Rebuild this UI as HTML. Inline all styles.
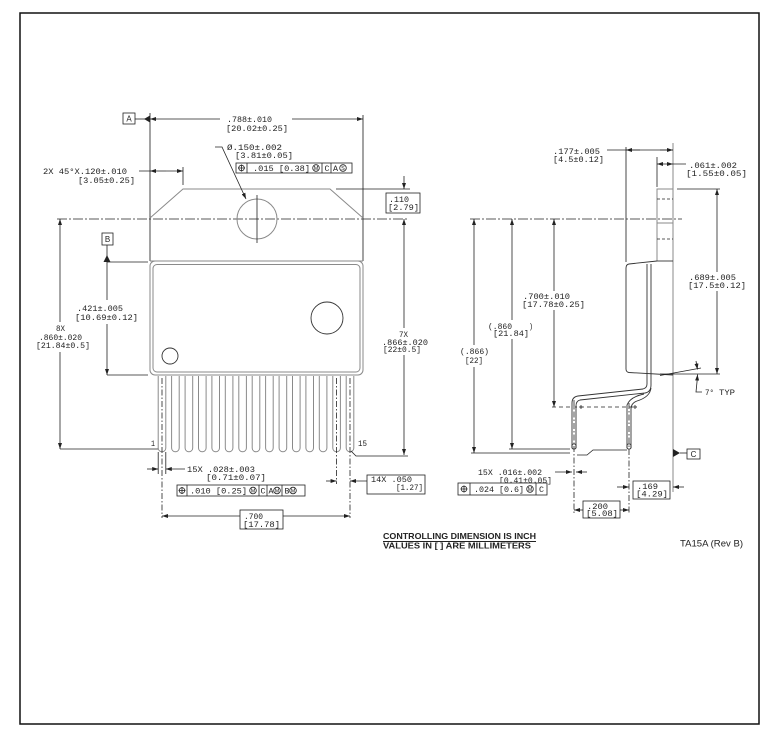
<!DOCTYPE html>
<html><head><meta charset="utf-8"><style>
html,body{margin:0;padding:0;background:#fff;}
svg{display:block}
.t{font-family:"Liberation Mono",monospace;font-size:8px;fill:#222}
.s{font-family:"Liberation Sans",sans-serif;fill:#222}
.d{stroke:#222;stroke-width:0.8;fill:none}
.g{stroke:#8a8a8a;stroke-width:1;fill:none}
.k{stroke:#333;stroke-width:0.9;fill:none}
.cl{stroke:#222;stroke-width:0.8;fill:none;stroke-dasharray:10 2 2 2}
.cv{stroke:#222;stroke-width:0.8;fill:none;stroke-dasharray:6 2 1.5 2}
.bx{stroke:#222;stroke-width:0.8;fill:#fff}
</style></head><body>
<svg width="774" height="745" viewBox="0 0 774 745" xmlns="http://www.w3.org/2000/svg">
<defs>
<marker id="a" viewBox="0 0 6 4" refX="6" refY="2" markerWidth="6" markerHeight="4" markerUnits="userSpaceOnUse" orient="auto"><path d="M0,0L6,2L0,4z" fill="#222"/></marker>
<path id="ld" d="M-3.8,376V448A3.8,3.8 0 0 0 3.8,448V376" class="g"/>
</defs>
<rect x="20" y="13" width="739" height="711" fill="none" stroke="#111" stroke-width="1.5"/>

<!-- ================= FRONT VIEW ================= -->
<!-- centre line -->
<path class="cl" d="M57,219H408"/>
<!-- tab -->
<path class="k" d="M150,113V261M363,115V261"/>
<path class="g" d="M150,218L183,189H330L363,218M150,261H363"/>
<circle cx="257" cy="219" r="20" class="g"/>
<path class="d" d="M257,195V243"/>
<!-- body -->
<rect x="150" y="261" width="213" height="114" rx="5" class="g"/>
<rect x="153" y="264.5" width="207" height="107.5" rx="4" class="g"/>
<circle cx="327" cy="318" r="16" class="k" stroke="#555"/>
<circle cx="170" cy="356" r="8" class="k" stroke="#555"/>
<!-- leads -->
<use href="#ld" x="162"/><use href="#ld" x="175.4"/><use href="#ld" x="188.9"/><use href="#ld" x="202.3"/><use href="#ld" x="215.7"/><use href="#ld" x="229.1"/><use href="#ld" x="242.6"/><use href="#ld" x="256"/><use href="#ld" x="269.4"/><use href="#ld" x="282.9"/><use href="#ld" x="296.3"/><use href="#ld" x="309.7"/><use href="#ld" x="323.1"/><use href="#ld" x="336.6"/><use href="#ld" x="350"/>
<path class="cv" d="M162,378V518M336.6,378V484M350,378V518"/>
<text class="t" x="151" y="446" textLength="4" lengthAdjust="spacingAndGlyphs">1</text>
<text class="t" x="358" y="446" textLength="9" lengthAdjust="spacingAndGlyphs">15</text>

<!-- datum A & .788 -->
<rect x="123" y="113" width="12" height="11" class="bx"/>
<text class="s" x="129" y="121.5" font-size="8" text-anchor="middle">A</text>
<path class="d" d="M135,119H145"/>
<polygon points="150,115.5 150,122.5 144,119" fill="#222"/>
<path class="d" d="M220,119H150" marker-end="url(#a)"/>
<path class="d" d="M292,119H363" marker-end="url(#a)"/>
<text class="t" x="227" y="122" textLength="45" lengthAdjust="spacingAndGlyphs">.788±.010</text>
<text class="t" x="226" y="131" textLength="62" lengthAdjust="spacingAndGlyphs">[20.02±0.25]</text>

<!-- Ø.150 -->
<path class="d" d="M215,147H222L246,199" marker-end="url(#a)"/>
<text class="t" x="227" y="150" textLength="55" lengthAdjust="spacingAndGlyphs">Ø.150±.002</text>
<text class="t" x="235" y="158" textLength="58" lengthAdjust="spacingAndGlyphs">[3.81±0.05]</text>
<!-- FCF1 -->
<rect x="236" y="163" width="116" height="10" class="bx"/>
<path class="d" d="M247,163V173M322,163V173M331,163V173"/>
<circle cx="241.5" cy="168" r="2.8" class="d"/><path class="d" d="M241.5,164.5V171.5M238,168H245"/>
<text class="t" x="253" y="171" textLength="57" lengthAdjust="spacingAndGlyphs">.015 [0.38]</text>
<circle cx="316" cy="168" r="3.3" class="d" stroke-width="0.7"/><text class="s" x="316" y="170" font-size="5.5" text-anchor="middle">M</text>
<text class="t" x="324.5" y="171" textLength="5" lengthAdjust="spacingAndGlyphs">C</text>
<text class="t" x="333" y="171" textLength="5" lengthAdjust="spacingAndGlyphs">A</text>
<circle cx="343" cy="168" r="3.3" class="d" stroke-width="0.7"/><text class="s" x="343" y="170" font-size="5.5" text-anchor="middle">S</text>

<!-- 2X 45° -->
<path class="d" d="M139,171H150M183,167V185"/>
<path class="d" d="M166,171H150" marker-end="url(#a)"/>
<path class="d" d="M166,171H183" marker-end="url(#a)"/>
<text class="t" x="43" y="174" textLength="84" lengthAdjust="spacingAndGlyphs">2X 45°X.120±.010</text>
<text class="t" x="78" y="183" textLength="57" lengthAdjust="spacingAndGlyphs">[3.05±0.25]</text>

<!-- .110 -->
<path class="d" d="M336,189H410"/>
<path class="d" d="M404,176V189" marker-end="url(#a)"/>
<rect x="386" y="193" width="34" height="20" class="bx"/>
<text class="t" x="389" y="202" textLength="20" lengthAdjust="spacingAndGlyphs">.110</text>
<text class="t" x="388" y="210" textLength="31" lengthAdjust="spacingAndGlyphs">[2.79]</text>

<!-- 7X .866 -->
<path class="d" d="M404,328V219" marker-end="url(#a)"/>
<path class="d" d="M404,355V455" marker-end="url(#a)"/>
<path class="d" d="M351,451L356,456H408"/>
<text class="t" x="399" y="337" textLength="9" lengthAdjust="spacingAndGlyphs">7X</text>
<text class="t" x="382" y="345" textLength="46" lengthAdjust="spacingAndGlyphs">.866±.020</text>
<text class="t" x="383" y="352" textLength="38" lengthAdjust="spacingAndGlyphs">[22±0.5]</text>

<!-- 8X .860 -->
<path class="d" d="M60,322V219" marker-end="url(#a)"/>
<path class="d" d="M60,352V449" marker-end="url(#a)"/>
<path class="d" d="M60,449H158"/>
<text class="t" x="56" y="331" textLength="9" lengthAdjust="spacingAndGlyphs">8X</text>
<text class="t" x="39" y="340" textLength="43" lengthAdjust="spacingAndGlyphs">.860±.020</text>
<text class="t" x="36" y="348" textLength="54" lengthAdjust="spacingAndGlyphs">[21.84±0.5]</text>

<!-- datum B & .421 -->
<rect x="102" y="233" width="11" height="12" class="bx"/>
<text class="s" x="107.5" y="242" font-size="8" text-anchor="middle">B</text>
<path class="d" d="M107,245V300M107,262H148M107,375H148"/>
<polygon points="103.5,262 110.5,262 107,255" fill="#222"/>
<path class="d" d="M107,324V375" marker-end="url(#a)"/>
<text class="t" x="77" y="311" textLength="46" lengthAdjust="spacingAndGlyphs">.421±.005</text>
<text class="t" x="75" y="320" textLength="63" lengthAdjust="spacingAndGlyphs">[10.69±0.12]</text>

<!-- 15X .028 -->
<path class="d" d="M158.2,452V474M165.8,452V474"/>
<path class="d" d="M147,469H158.2" marker-end="url(#a)"/>
<path class="d" d="M185,469H165.8" marker-end="url(#a)"/>
<text class="t" x="187" y="472" textLength="68" lengthAdjust="spacingAndGlyphs">15X  .028±.003</text>
<text class="t" x="206" y="480" textLength="60" lengthAdjust="spacingAndGlyphs">[0.71±0.07]</text>
<!-- FCF2 -->
<rect x="177" y="485" width="128" height="11" class="bx"/>
<path class="d" d="M187,485V496M259,485V496M267,485V496M282,485V496"/>
<circle cx="182" cy="490.5" r="2.8" class="d"/><path class="d" d="M182,487V494M178.5,490.5H185.5"/>
<text class="t" x="190" y="493.3" textLength="57" lengthAdjust="spacingAndGlyphs">.010 [0.25]</text>
<circle cx="253" cy="490.5" r="3.3" class="d" stroke-width="0.7"/><text class="s" x="253" y="492.5" font-size="5.5" text-anchor="middle">M</text>
<text class="t" x="260.5" y="493.3" textLength="5" lengthAdjust="spacingAndGlyphs">C</text>
<text class="t" x="268.5" y="493.3" textLength="5" lengthAdjust="spacingAndGlyphs">A</text>
<circle cx="277" cy="490.5" r="3.3" class="d" stroke-width="0.7"/><text class="s" x="277" y="492.5" font-size="5.5" text-anchor="middle">M</text>
<text class="t" x="284.5" y="493.3" textLength="5" lengthAdjust="spacingAndGlyphs">B</text>
<circle cx="293" cy="490.5" r="3.3" class="d" stroke-width="0.7"/><text class="s" x="293" y="492.5" font-size="5.5" text-anchor="middle">M</text>

<!-- 14X .050 -->
<path class="d" d="M326,481H336.6" marker-end="url(#a)"/>
<path class="d" d="M367,481H350" marker-end="url(#a)"/>
<rect x="367" y="475" width="58" height="19" class="bx"/>
<text class="t" x="371" y="482" textLength="41" lengthAdjust="spacingAndGlyphs">14X  .050</text>
<text class="t" x="396" y="490" textLength="27" lengthAdjust="spacingAndGlyphs">[1.27]</text>

<!-- .700 -->
<path class="d" d="M240,516H162" marker-end="url(#a)"/>
<path class="d" d="M283,516H350" marker-end="url(#a)"/>
<rect x="240" y="510" width="43" height="19" class="bx"/>
<text class="t" x="244" y="519" textLength="19" lengthAdjust="spacingAndGlyphs">.700</text>
<text class="t" x="243" y="527" textLength="37" lengthAdjust="spacingAndGlyphs">[17.78]</text>

<!-- ================= SIDE VIEW ================= -->
<path class="cl" d="M470,219H682"/>
<!-- datum plane line -->
<path class="g" d="M673,143V492"/>
<!-- tab -->
<path class="g" d="M657,261V189H673"/>
<path class="k" d="M657,261H673"/>
<path class="d" d="M657,199H673M657,239H673" stroke-dasharray="3 2"/>
<path class="g" d="M657,223H673"/>
<!-- body -->
<path class="k" d="M626,147V262"/>
<path class="k" d="M657,261L629,264Q626,264.5 626,268V369Q626,372 629,372.5L673,375"/>
<!-- lead A -->
<path class="k" stroke="#555" d="M647,264V384Q647,388 643,389L578,396Q572,397 572,403V448"/>
<path class="k" stroke="#555" d="M651,264V385Q651,392 645,393L580,400Q576,401 576,406V448"/>
<!-- lead B -->
<path class="k" stroke="#555" d="M651,388Q650,397 637,401Q631,403 631,409V448"/>
<path class="k" stroke="#555" d="M644,394Q630,397 627,405V448"/>
<rect x="572" y="444" width="4" height="5" rx="1.5" class="d"/>
<rect x="627" y="444" width="4" height="5" rx="1.5" class="d"/>
<path class="cv" d="M574,400V513M629,403V513"/>
<path class="d" d="M552,407H637" stroke-dasharray="4 3"/>
<path class="d" d="M581,405V409M579,407H583M635,405V409M633,407H637"/>

<!-- .177 -->
<path class="d" d="M607,150H673"/>
<path class="d" d="M640,150H626" marker-end="url(#a)"/>
<path class="d" d="M660,150H673" marker-end="url(#a)"/>
<text class="t" x="553" y="154" textLength="47" lengthAdjust="spacingAndGlyphs">.177±.005</text>
<text class="t" x="553" y="162" textLength="51" lengthAdjust="spacingAndGlyphs">[4.5±0.12]</text>
<!-- .061 -->
<path class="d" d="M657,157V187M673,164H686"/>
<path class="d" d="M665,164H657" marker-end="url(#a)"/>
<path class="d" d="M665,164H673" marker-end="url(#a)"/>
<text class="t" x="689" y="168" textLength="48" lengthAdjust="spacingAndGlyphs">.061±.002</text>
<text class="t" x="686" y="176" textLength="61" lengthAdjust="spacingAndGlyphs">[1.55±0.05]</text>
<!-- .689 -->
<path class="d" d="M677,189H720M660,374H720"/>
<path class="d" d="M717,272V189" marker-end="url(#a)"/>
<path class="d" d="M717,291V374" marker-end="url(#a)"/>
<text class="t" x="689" y="280" textLength="47" lengthAdjust="spacingAndGlyphs">.689±.005</text>
<text class="t" x="688" y="288" textLength="58" lengthAdjust="spacingAndGlyphs">[17.5±0.12]</text>
<!-- 7° -->
<path class="d" d="M660,375.5L701,368"/>
<path class="d" d="M696,361L697.5,369.5" marker-end="url(#a)"/>
<path class="d" d="M697,382L697.5,374.5" marker-end="url(#a)"/>
<path class="d" d="M697,382L696,392H702"/>
<text class="t" x="705" y="395" textLength="9" lengthAdjust="spacingAndGlyphs">7°</text>
<text class="t" x="719" y="395" textLength="16" lengthAdjust="spacingAndGlyphs">TYP</text>

<!-- .700 side -->
<path class="d" d="M554,291V219" marker-end="url(#a)"/>
<path class="d" d="M554,310V407" marker-end="url(#a)"/>
<text class="t" x="523" y="299" textLength="47" lengthAdjust="spacingAndGlyphs">.700±.010</text>
<text class="t" x="522" y="307" textLength="63" lengthAdjust="spacingAndGlyphs">[17.78±0.25]</text>
<!-- (.860) -->
<path class="d" d="M512,320V219" marker-end="url(#a)"/>
<path class="d" d="M512,339V449" marker-end="url(#a)"/>
<path class="d" d="M509,449H570"/>
<text class="t" x="488" y="329" textLength="24" lengthAdjust="spacingAndGlyphs">(.860</text>
<text class="t" x="529" y="329" textLength="4" lengthAdjust="spacingAndGlyphs">)</text>
<text class="t" x="493" y="336" textLength="36" lengthAdjust="spacingAndGlyphs">[21.84]</text>
<!-- (.866) -->
<path class="d" d="M474,345V219" marker-end="url(#a)"/>
<path class="d" d="M474,367V453" marker-end="url(#a)"/>
<path class="d" d="M471,453H570M577,455H587L593,450H627"/>
<text class="t" x="460" y="354" textLength="29" lengthAdjust="spacingAndGlyphs">(.866)</text>
<text class="t" x="465" y="363" textLength="18" lengthAdjust="spacingAndGlyphs">[22]</text>

<!-- 15X .016 -->
<path class="d" d="M555,472H572" marker-end="url(#a)"/>
<path class="d" d="M587,472H576" marker-end="url(#a)"/>
<text class="t" x="478" y="475" textLength="64" lengthAdjust="spacingAndGlyphs">15X  .016±.002</text>
<text class="t" x="499" y="483" textLength="53" lengthAdjust="spacingAndGlyphs">[0.41±0.05]</text>
<!-- FCF3 -->
<rect x="458" y="483" width="89" height="12" class="bx"/>
<path class="d" d="M470,483V495M536,483V495"/>
<circle cx="464" cy="489" r="2.8" class="d"/><path class="d" d="M464,485.5V492.5M460.5,489H467.5"/>
<text class="t" x="474" y="491.8" textLength="50" lengthAdjust="spacingAndGlyphs">.024 [0.6]</text>
<circle cx="530" cy="489" r="3.3" class="d" stroke-width="0.7"/><text class="s" x="530" y="491" font-size="5.5" text-anchor="middle">M</text>
<text class="t" x="539" y="491.8" textLength="5" lengthAdjust="spacingAndGlyphs">C</text>

<!-- .169 -->
<path class="d" d="M617,487H629" marker-end="url(#a)"/>
<path class="d" d="M684,487H673" marker-end="url(#a)"/>
<rect x="633" y="481" width="37" height="18" class="bx"/>
<text class="t" x="637" y="489" textLength="21" lengthAdjust="spacingAndGlyphs">.169</text>
<text class="t" x="636" y="496.5" textLength="32" lengthAdjust="spacingAndGlyphs">[4.29]</text>
<!-- .200 -->
<path class="d" d="M583,510H574" marker-end="url(#a)"/>
<path class="d" d="M620,510H629" marker-end="url(#a)"/>
<rect x="583" y="501" width="37" height="17" class="bx"/>
<text class="t" x="587" y="509" textLength="21" lengthAdjust="spacingAndGlyphs">.200</text>
<text class="t" x="586" y="516" textLength="32" lengthAdjust="spacingAndGlyphs">[5.08]</text>

<!-- datum C -->
<polygon points="673,449 673,457 680,453" fill="#222"/>
<path class="d" d="M680,453H687"/>
<rect x="687" y="449" width="13" height="10" class="bx"/>
<text class="s" x="693.5" y="457" font-size="8" text-anchor="middle">C</text>

<!-- notes -->
<text class="s" x="383" y="539" font-size="8.3" font-weight="bold" textLength="153" lengthAdjust="spacingAndGlyphs">CONTROLLING DIMENSION IS INCH</text>
<path d="M383,541.5H536" stroke="#222" stroke-width="0.9"/>
<text class="s" x="383" y="548.5" font-size="8.3" font-weight="bold" textLength="148" lengthAdjust="spacingAndGlyphs">VALUES IN [ ] ARE MILLIMETERS</text>
<text class="s" x="680" y="546.5" font-size="9.5" textLength="63" lengthAdjust="spacingAndGlyphs">TA15A (Rev B)</text>
</svg>
</body></html>
